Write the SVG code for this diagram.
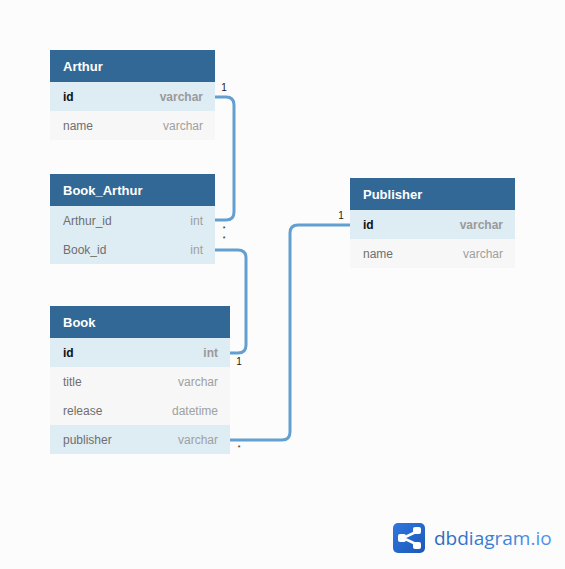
<svg xmlns="http://www.w3.org/2000/svg" width="565" height="569" viewBox="0 0 565 569">
<style>
text{font-family:"Liberation Sans",Arial,sans-serif;font-size:12px;fill:#707070}
.h{fill:#316896}.k{fill:#deecf4}.r{fill:#f7f7f7}
.t{font-size:13px;font-weight:bold;fill:#fff}
.n{fill:#6f6f6f}.p{font-weight:bold;fill:#111}
.y{text-anchor:end;fill:#a0a0a0}.py{font-weight:bold;text-anchor:end;fill:#9a9a9a}
.c{fill:none;stroke:#639fd0;stroke-width:3}
.m{font-size:10px;fill:#222;text-anchor:middle}
.s{font-size:7px;fill:#222;text-anchor:middle}
</style>
<defs>
<linearGradient id="g" x1="0" y1="0" x2="1" y2="1"><stop offset="0" stop-color="#2f77de"/><stop offset="1" stop-color="#1d58b8"/></linearGradient>
<linearGradient id="w" x1="0" y1="0" x2="1" y2="0"><stop offset="0" stop-color="#2a68c0"/><stop offset="1" stop-color="#4d96ec"/></linearGradient>
</defs>
<rect width="565" height="569" fill="#fcfcfc"/>
<g id="connectors">
<path class="c" d="M215 97H226Q234 97 234 105V212Q234 220 226 220H215"/>
<path class="c" d="M215 250H238Q246 250 246 258V345Q246 353 238 353H230"/>
<path class="c" d="M230 440H282Q290 440 290 432V233Q290 225 298 225H350"/>
<text class="m" x="224" y="91">1</text>
<text class="s" x="224" y="231">*</text>
<text class="s" x="224" y="241">*</text>
<text class="m" x="239" y="365">1</text>
<text class="s" x="239" y="450">*</text>
<text class="m" x="341" y="219">1</text>
</g>
<g id="arthur">
<rect class="h" x="50" y="50" width="165" height="32"/>
<rect class="k" x="50" y="82" width="165" height="29"/>
<rect class="r" x="50" y="111" width="165" height="29"/>
<text class="t" x="63" y="71">Arthur</text>
<text class="p" x="63" y="101">id</text><text class="py" x="203" y="101">varchar</text>
<text class="n" x="63" y="130">name</text><text class="y" x="203" y="130">varchar</text>
</g>
<g id="book_arthur">
<rect class="h" x="50" y="174" width="165" height="32"/>
<rect class="k" x="50" y="206" width="165" height="58"/>
<text class="t" x="63" y="195">Book_Arthur</text>
<text class="n" x="63" y="225">Arthur_id</text><text class="y" x="203" y="225">int</text>
<text class="n" x="63" y="254">Book_id</text><text class="y" x="203" y="254">int</text>
</g>
<g id="book">
<rect class="h" x="50" y="306" width="180" height="32"/>
<rect class="k" x="50" y="338" width="180" height="29"/>
<rect class="r" x="50" y="367" width="180" height="58"/>
<rect class="k" x="50" y="425" width="180" height="29"/>
<text class="t" x="63" y="327">Book</text>
<text class="p" x="63" y="357">id</text><text class="py" x="218" y="357">int</text>
<text class="n" x="63" y="386">title</text><text class="y" x="218" y="386">varchar</text>
<text class="n" x="63" y="415">release</text><text class="y" x="218" y="415">datetime</text>
<text class="n" x="63" y="444">publisher</text><text class="y" x="218" y="444">varchar</text>
</g>
<g id="publisher">
<rect class="h" x="350" y="178" width="165" height="32"/>
<rect class="k" x="350" y="210" width="165" height="29"/>
<rect class="r" x="350" y="239" width="165" height="29"/>
<text class="t" x="363" y="199">Publisher</text>
<text class="p" x="363" y="229">id</text><text class="py" x="503" y="229">varchar</text>
<text class="n" x="363" y="258">name</text><text class="y" x="503" y="258">varchar</text>
</g>
<g id="logo">
<rect x="393" y="523" width="32" height="30" rx="5" fill="url(#g)"/>
<path d="M418 531L403 538L418 545" fill="none" stroke="#fff" stroke-width="2.5"/>
<rect x="398" y="534" width="8" height="8" rx="2" fill="#fff"/>
<rect x="413" y="527" width="8" height="7" rx="2" fill="#fff"/>
<rect x="413" y="542" width="8" height="7" rx="2" fill="#fff"/>
<text x="434" y="545" style="font-family:'Open Sans','Liberation Sans',sans-serif;font-size:19px;fill:url(#w)">dbdiagram.io</text>
</g>
</svg>
